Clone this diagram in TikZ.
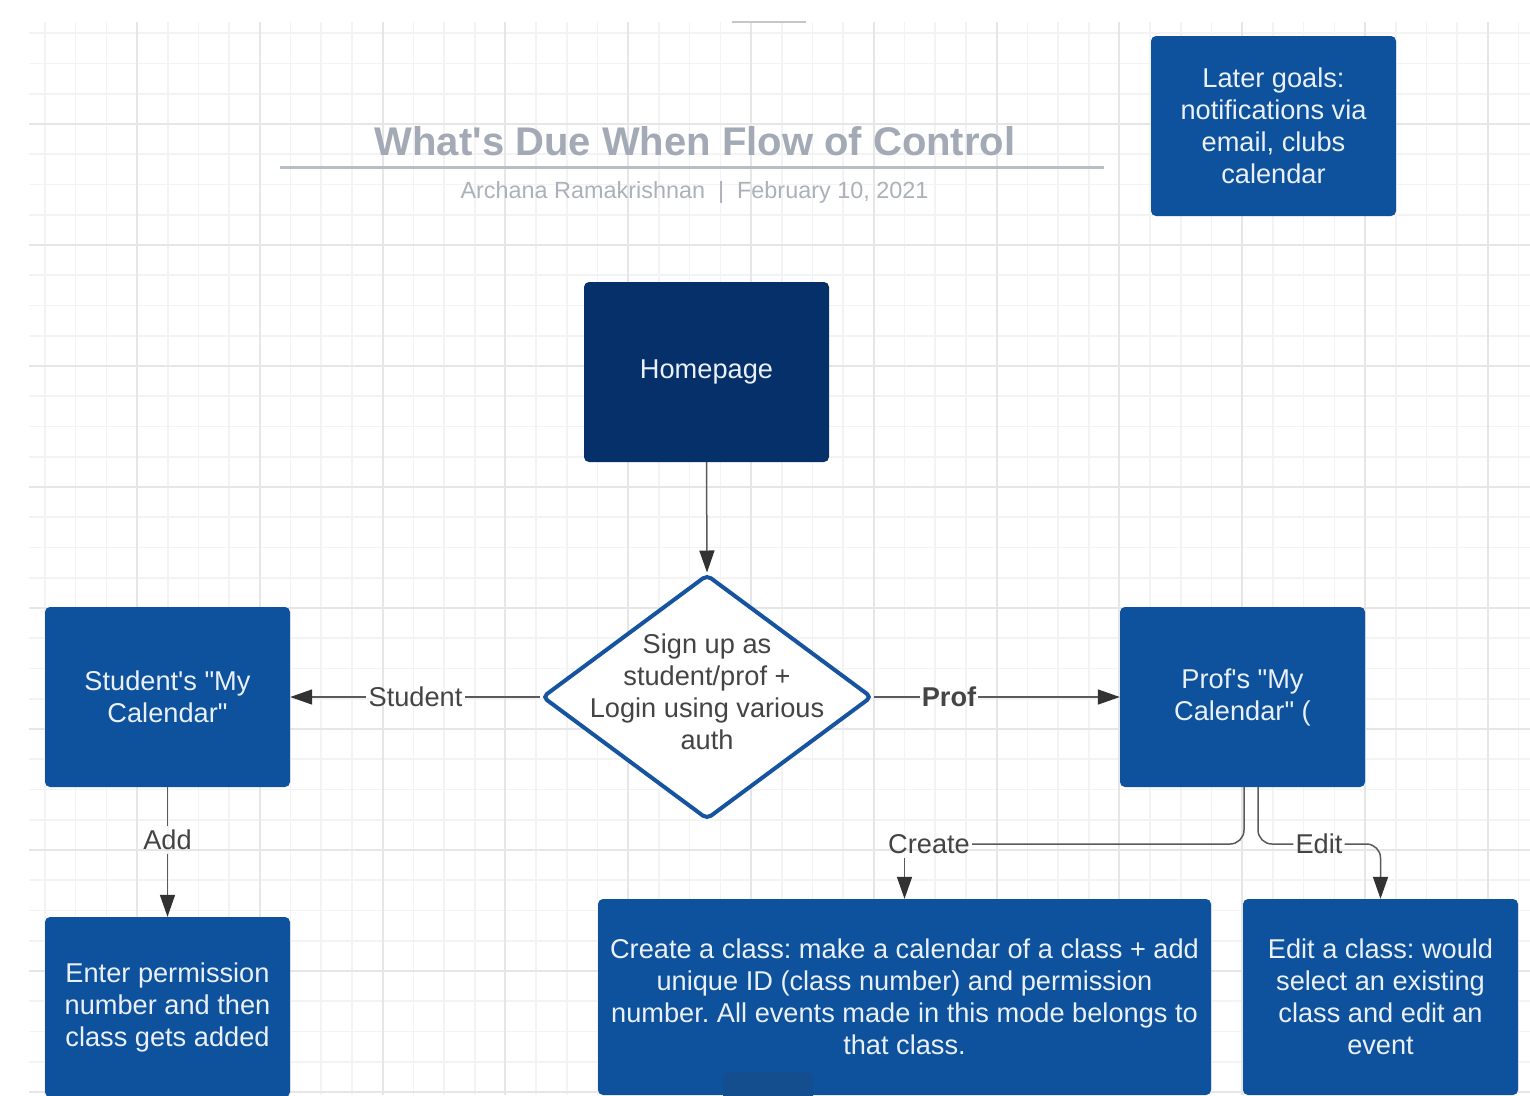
\documentclass[tikz,border=0pt]{standalone}
\usepackage{fontspec}
\setmainfont{Liberation Sans}[Ligatures=TeXOff]
\usetikzlibrary{arrows.meta,shapes.geometric,calc}

\definecolor{boxblue}{RGB}{14,81,156}
\definecolor{boxdark}{RGB}{20,78,142}
\definecolor{navy}{RGB}{6,48,106}
\definecolor{boxtext}{RGB}{234,240,248}
\definecolor{gridminor}{RGB}{243,243,243}
\definecolor{gridmajor}{RGB}{230,230,230}
\definecolor{titlegray}{RGB}{163,170,182}
\definecolor{subgray}{RGB}{172,177,185}
\definecolor{ruleline}{RGB}{184,190,198}
\definecolor{edgegray}{RGB}{90,90,90}
\definecolor{tipgray}{RGB}{50,50,50}
\definecolor{labelgray}{RGB}{68,68,68}
\definecolor{diamondblue}{RGB}{22,84,160}

\newcommand\bxfont{\fontsize{27.2}{32}\selectfont}
\newcommand\ttlfont{\fontsize{40}{48}\selectfont\bfseries}
\newcommand\subtfont{\fontsize{23.4}{27}\selectfont}

\begin{document}
\frenchspacing
\begin{tikzpicture}[x=1pt,y=-1pt,
  box/.style={rectangle, rounded corners=5pt, fill=boxblue, text=boxtext,
    align=center, minimum width=245pt, minimum height=180pt, inner sep=0pt, font=\bxfont},
  conn/.style={draw=edgegray, line width=1.5pt},
  arr/.style={conn, -{Triangle[length=22pt,width=15pt,color=tipgray]}},
  elabel/.style={text=labelgray, font=\bxfont, inner xsep=2pt, inner ysep=4pt,
    text height=19.5pt, text depth=0pt},
  gminor/.style={draw=gridminor, line width=1.6pt},
  gmajor/.style={draw=gridmajor, line width=2pt}
]
\useasboundingbox (0,0) rectangle (1530,1095);
\fill[white] (0,0) rectangle (1530,1095);

% grid
\begin{scope}
\clip (29,22) rectangle (1530,1095);
\foreach \i in {-3,...,45} {\pgfmathsetmacro\gx{137+30.7*\i}
  \draw[gminor] (\gx,22) -- (\gx,1095);}
\foreach \j in {-3,...,32} {\pgfmathsetmacro\gy{124+30.25*\j}
  \draw[gminor] (29,\gy) -- (1530,\gy);}
\foreach \i in {-1,...,11} {\pgfmathsetmacro\gx{137+122.8*\i}
  \draw[gmajor] (\gx,22) -- (\gx,1095);}
\foreach \j in {-1,...,8} {\pgfmathsetmacro\gy{124+121*\j}
  \draw[gmajor] (29,\gy) -- (1530,\gy);}
\end{scope}
\draw[draw=gray!45, line width=1.2pt] (732,22) -- (806,22);

% title
\node[font=\ttlfont, text=titlegray, anchor=base, inner sep=0pt] (title) at (695,155) {What's Due When Flow of Control};
\draw[draw=ruleline, line width=3pt] (280,167) -- (1104,167);
\node[font=\subtfont, text=subgray, anchor=base, inner sep=0pt] (subtitle) at (694.5,198) {Archana Ramakrishnan \ |\ \ February 10, 2021};

% nodes
\node[box] (later) at (1273.5,126) {Later goals:\\notifications via\\email, clubs\\calendar};
\node[box, fill=navy] (home) at (706.5,372) {Homepage};
\node[diamond, draw=diamondblue, line width=4pt, fill=white, minimum width=330pt,
  minimum height=245pt, inner sep=0pt, rounded corners=5pt] (diam) at (707,697) {};
\node[font=\bxfont, text=labelgray, align=center] (diamtxt) at (707,692) {Sign up as\\student/prof +\\Login using various\\auth};
\node[box] (student) at (167.5,697) {Student's "My\\Calendar"};
\node[box] (prof) at (1242.5,697) {Prof's "My\\Calendar" (};
\node[box] (enter) at (167.5,1007) {Enter permission\\number and then\\class gets added};
\node[box, minimum width=613pt, minimum height=196pt] (create) at (904.5,997) {Create a class: make a calendar of a class + add\\unique ID (class number) and permission\\number. All events made in this mode belongs to\\that class.};
\fill[boxdark, rounded corners=8pt] (723,1072) rectangle (813,1120);
\node[box, minimum width=275pt, minimum height=196pt] (edit) at (1380.5,997) {Edit a class: would\\select an existing\\class and edit an\\event};

% edge labels
\node[elabel] (lstud) at (415.5,697) {Student};
\node[elabel, font=\bxfont\bfseries] (lprof) at (949,697) {Prof};
\node[elabel] (ladd) at (167.5,840) {Add};
\node[elabel] (lcreate) at (929,844) {Create};
\node[elabel] (ledit) at (1319,844) {Edit};

% connectors
\draw[arr] (home.south) -- (diam.north);
\draw[conn] (diam.west) -- (lstud.east);
\draw[arr] (lstud.west) -- (student.east);
\draw[conn] (diam.east) -- (lprof.west);
\draw[arr] (lprof.east) -- (prof.west);
\draw[conn] (student.south) -- (ladd.north);
\draw[arr] (ladd.south) -- (enter.north);
\draw[conn, rounded corners=14pt] ([xshift=1.5pt]prof.south) |- (lcreate.east);
\draw[arr] (lcreate.south -| create.north) -- (create.north);
\draw[conn, rounded corners=14pt] ([xshift=15.5pt]prof.south) |- (ledit.west);
\draw[arr, rounded corners=14pt] (ledit.east) -| (edit.north);
\end{tikzpicture}
\end{document}
